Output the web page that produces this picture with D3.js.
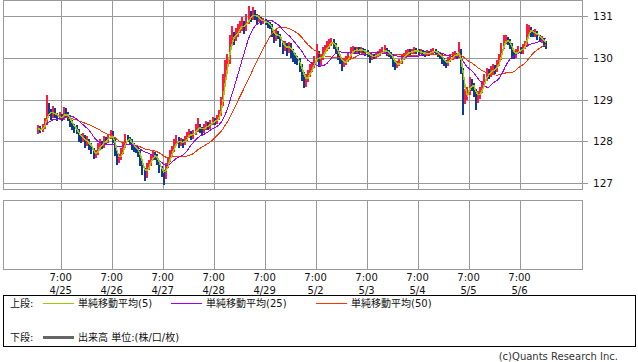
<!DOCTYPE html>
<html>
<head>
<meta charset="utf-8">
<script src="https://cdn.jsdelivr.net/npm/d3@7"></script>
<style>
body { margin: 0; background: #fff; }
svg { display: block; font-family: "DejaVu Sans", "Noto Sans CJK JP", sans-serif; }
</style>
</head>
<body>
<div id="chart"></div>
<script>
// hourly bars (open = previous close)
var firstOpen = 128.25;
var closes = [
  128.30, 128.25, 128.35, 128.45, 128.75, 128.70, 128.60, 128.75, 128.62, 128.55,
  128.60, 128.55, 128.70, 128.65, 128.55, 128.45, 128.35, 128.30, 128.25, 128.10,
  128.05, 128.10, 127.95, 128.00, 127.90, 127.80, 127.65, 127.70, 127.85, 127.95,
  127.90, 128.05, 128.00, 128.10, 128.20, 128.05, 127.75, 127.55, 127.60, 127.75,
  127.90, 128.10, 128.05, 128.00, 127.90, 127.85, 127.80, 127.75, 127.50, 127.30,
  127.20, 127.40, 127.45, 127.60, 127.70, 127.65, 127.50, 127.35, 127.25, 127.20,
  127.40, 127.55, 127.70, 127.80, 127.95, 128.05, 127.95, 128.00, 127.95, 128.05,
  128.15, 128.20, 128.10, 128.20, 128.30, 128.35, 128.30, 128.25, 128.35, 128.40,
  128.35, 128.45, 128.50, 128.45, 128.55, 128.65, 128.90, 129.40, 129.85, 129.90,
  130.40, 130.55, 130.45, 130.60, 130.70, 130.75, 130.80, 130.70, 130.90, 131.00,
  130.95, 131.10, 131.00, 130.90, 130.95, 130.85, 130.88, 130.85, 130.80, 130.78,
  130.60, 130.45, 130.60, 130.55, 130.35, 130.25, 130.30, 130.20, 130.30, 130.15,
  130.05, 130.00, 129.95, 129.80, 129.60, 129.45, 129.50, 129.60, 129.75, 129.80,
  129.95, 130.10, 129.90, 130.00, 130.15, 130.20, 130.30, 130.35, 130.40, 130.30,
  130.20, 130.05, 129.95, 129.85, 129.90, 129.95, 130.05, 130.15, 130.20, 130.15,
  130.20, 130.18, 130.20, 130.15, 130.12, 130.10, 130.00, 130.05, 130.02, 130.08,
  130.10, 130.12, 130.15, 130.20, 130.12, 130.10, 130.05, 129.90, 129.80, 129.85,
  129.90, 130.00, 130.05, 130.10, 130.15, 130.12, 130.15, 130.20, 130.15, 130.12,
  130.15, 130.10, 130.08, 130.12, 130.10, 130.15, 130.18, 130.12, 130.10, 130.05,
  129.95, 129.90, 129.85, 129.95, 130.00, 130.05, 130.08, 130.05, 130.20, 129.70,
  129.05, 129.10, 129.15, 129.45, 129.35, 129.20, 129.05, 129.10, 129.20, 129.35,
  129.50, 129.65, 129.60, 129.70, 129.75, 129.70, 129.85, 130.00, 130.25, 130.40,
  130.45, 130.40, 130.30, 130.10, 130.05, 130.15, 130.20, 130.15, 130.25, 130.30,
  130.65, 130.70, 130.60, 130.58, 130.60, 130.50, 130.45, 130.45, 130.35, 130.30
];
var highs = [
  128.38, 128.36, 128.42, 128.55, 129.10, 128.92, 128.78, 128.85, 128.80, 128.68,
  128.70, 128.66, 128.82, 128.80, 128.70, 128.60, 128.52, 128.42, 128.40, 128.30,
  128.18, 128.20, 128.15, 128.12, 128.05, 127.95, 127.85, 127.80, 127.95, 128.05,
  128.00, 128.12, 128.10, 128.18, 128.28, 128.25, 128.10, 127.80, 127.70, 127.85,
  127.98, 128.18, 128.15, 128.10, 128.05, 127.95, 127.92, 127.85, 127.80, 127.55,
  127.35, 127.48, 127.55, 127.70, 127.80, 127.75, 127.70, 127.55, 127.40, 127.30,
  127.48, 127.62, 127.78, 127.88, 128.05, 128.15, 128.10, 128.08, 128.05, 128.12,
  128.22, 128.30, 128.25, 128.28, 128.42, 128.55, 128.42, 128.35, 128.42, 128.48,
  128.45, 128.52, 128.58, 128.55, 128.62, 128.75, 129.05, 129.60, 129.95, 130.10,
  130.55, 130.75, 130.62, 130.72, 130.82, 130.88, 130.98, 130.88, 131.05, 131.24,
  131.12, 131.22, 131.15, 131.05, 131.02, 130.98, 130.95, 130.92, 130.90, 130.85,
  130.82, 130.65, 130.68, 130.65, 130.58, 130.40, 130.40, 130.35, 130.38, 130.35,
  130.20, 130.12, 130.05, 130.00, 129.85, 129.65, 129.62, 129.70, 129.85, 129.90,
  130.05, 130.32, 130.15, 130.10, 130.25, 130.30, 130.40, 130.45, 130.48, 130.45,
  130.35, 130.25, 130.10, 130.00, 130.00, 130.05, 130.12, 130.25, 130.28, 130.25,
  130.26, 130.25, 130.26, 130.24, 130.20, 130.18, 130.14, 130.10, 130.10, 130.14,
  130.16, 130.20, 130.25, 130.30, 130.24, 130.18, 130.14, 130.08, 129.95, 129.92,
  129.98, 130.08, 130.12, 130.18, 130.22, 130.20, 130.21, 130.26, 130.24, 130.20,
  130.20, 130.18, 130.15, 130.18, 130.16, 130.20, 130.24, 130.22, 130.17, 130.14,
  130.08, 130.00, 129.95, 130.02, 130.08, 130.14, 130.16, 130.12, 130.38, 130.22,
  129.75, 129.25, 129.30, 129.55, 129.50, 129.40, 129.25, 129.20, 129.30, 129.45,
  129.60, 129.75, 129.72, 129.80, 129.85, 129.82, 129.95, 130.10, 130.35, 130.54,
  130.55, 130.50, 130.45, 130.35, 130.15, 130.22, 130.28, 130.25, 130.32, 130.40,
  130.80, 130.78, 130.74, 130.66, 130.68, 130.64, 130.55, 130.52, 130.48, 130.40
];
var lows = [
  128.18, 128.20, 128.22, 128.30, 128.40, 128.60, 128.52, 128.55, 128.55, 128.48,
  128.50, 128.48, 128.50, 128.58, 128.48, 128.35, 128.28, 128.20, 128.18, 127.98,
  127.95, 127.98, 127.85, 127.88, 127.80, 127.70, 127.58, 127.60, 127.66, 127.80,
  127.82, 127.85, 127.92, 127.95, 128.05, 127.95, 127.65, 127.42, 127.48, 127.55,
  127.70, 127.85, 127.98, 127.90, 127.80, 127.75, 127.72, 127.62, 127.40, 127.18,
  127.05, 127.12, 127.32, 127.40, 127.55, 127.55, 127.42, 127.25, 127.15, 126.95,
  127.10, 127.35, 127.50, 127.65, 127.75, 127.90, 127.85, 127.88, 127.85, 127.90,
  128.00, 128.08, 128.02, 128.05, 128.15, 128.22, 128.20, 128.15, 128.20, 128.28,
  128.28, 128.30, 128.40, 128.38, 128.42, 128.50, 128.60, 128.85, 129.30, 129.70,
  129.85, 130.30, 130.30, 130.40, 130.50, 130.60, 130.65, 130.58, 130.65, 130.82,
  130.85, 130.90, 130.90, 130.82, 130.85, 130.78, 130.80, 130.78, 130.72, 130.68,
  130.50, 130.35, 130.40, 130.45, 130.25, 130.10, 130.15, 130.05, 130.12, 130.00,
  129.90, 129.85, 129.82, 129.65, 129.45, 129.28, 129.30, 129.42, 129.55, 129.65,
  129.75, 129.90, 129.78, 129.80, 129.95, 130.08, 130.15, 130.22, 130.28, 130.20,
  130.10, 129.95, 129.85, 129.68, 129.78, 129.82, 129.90, 130.00, 130.10, 130.08,
  130.10, 130.10, 130.12, 130.08, 130.05, 130.02, 129.88, 129.95, 129.96, 129.98,
  130.02, 130.05, 130.08, 130.10, 130.05, 130.02, 129.96, 129.78, 129.70, 129.75,
  129.80, 129.85, 129.95, 130.00, 130.05, 130.06, 130.08, 130.10, 130.08, 130.06,
  130.08, 130.04, 130.02, 130.03, 130.04, 130.06, 130.10, 130.06, 130.02, 129.96,
  129.86, 129.80, 129.76, 129.80, 129.90, 129.95, 129.98, 129.96, 130.00, 129.60,
  128.63, 128.90, 129.00, 129.10, 129.20, 129.05, 128.75, 128.92, 129.02, 129.15,
  129.30, 129.45, 129.50, 129.55, 129.62, 129.60, 129.65, 129.80, 129.95, 130.20,
  130.32, 130.30, 130.20, 129.98, 129.98, 130.00, 130.10, 130.08, 130.10, 130.20,
  130.25, 130.55, 130.50, 130.50, 130.50, 130.42, 130.38, 130.36, 130.26, 130.22
];

// 7:00 gridlines: bar index of each one, and its date
var tickBars = [11, 35, 59, 83, 107, 131, 155, 179, 203, 227];
var tickDates = ['4/25', '4/26', '4/27', '4/28', '4/29', '5/2', '5/3', '5/4', '5/5', '5/6'];
var tickTime = '7:00';
var priceTicks = [127, 128, 129, 130, 131];

// moving averages: legend names and windows in hourly bars (original uses 30-min bars)
var maNames = ['単純移動平均(5)', '単純移動平均(25)', '単純移動平均(50)'];
var maWindows = [3, 13, 25];
var maColors = ['#99cc00', '#9900ff', '#ff3300'];

var UP = '#ff1a40';
var DOWN = '#0a3a9c';
var GRID = '#999999';

addEventListener('load', function() {
  drawChart();
});

function sma(values, n) {
  return values.map(function(v, i) {
    return d3.mean(values.slice(Math.max(0, i - n + 1), i + 1));
  });
}

function crisp(v) {
  return Math.round(v) + 0.5;
}

function drawChart() {
  var width = 638;
  var height = 362;

  var left = 3.5;
  var right = 582.5;
  var top = 0.5;
  var bottom = 189.5;
  var volTop = 200.5;
  var volBottom = 269.5;

  var xScale = d3.scaleLinear()
    .domain([tickBars[0], tickBars[tickBars.length - 1]])
    .range([60.7, 519.5]);

  var yScale = d3.scaleLinear()
    .domain([127, 131])
    .range([183, 16]);

  var svg = d3.select('#chart')
    .append('svg')
    .attr('width', width)
    .attr('height', height);

  svg.append('defs').append('clipPath')
    .attr('id', 'plot')
    .append('rect')
    .attr('x', left).attr('y', top)
    .attr('width', right - left).attr('height', bottom - top);

  // grid, main panel
  var grid = svg.append('g')
    .attr('stroke', GRID)
    .attr('stroke-width', 1)
    .attr('shape-rendering', 'crispEdges');

  grid.selectAll('.hline')
    .data(priceTicks)
    .enter()
    .append('line')
    .attr('x1', left)
    .attr('x2', right + 5)
    .attr('y1', function(d) { return crisp(yScale(d)); })
    .attr('y2', function(d) { return crisp(yScale(d)); });

  grid.selectAll('.vline')
    .data(tickBars)
    .enter()
    .append('line')
    .attr('x1', function(d) { return crisp(xScale(d)); })
    .attr('x2', function(d) { return crisp(xScale(d)); })
    .attr('y1', top)
    .attr('y2', bottom);

  grid.selectAll('.vline2')
    .data(tickBars)
    .enter()
    .append('line')
    .attr('x1', function(d) { return crisp(xScale(d)); })
    .attr('x2', function(d) { return crisp(xScale(d)); })
    .attr('y1', volTop)
    .attr('y2', volBottom);

  grid.append('rect')
    .attr('x', left).attr('y', top)
    .attr('width', right - left).attr('height', bottom - top)
    .attr('fill', 'none');

  grid.append('rect')
    .attr('x', left).attr('y', volTop)
    .attr('width', right - left).attr('height', volBottom - volTop)
    .attr('fill', 'none');

  // price labels on the right
  svg.selectAll('.ylab')
    .data(priceTicks)
    .enter()
    .append('text')
    .attr('x', 593)
    .attr('y', function(d) { return yScale(d) + 4; })
    .attr('font-size', 10.5)
    .attr('fill', '#111')
    .text(function(d) { return d; });

  // time axis labels
  var xl = svg.selectAll('.xlab')
    .data(tickBars)
    .enter()
    .append('g')
    .attr('transform', function(d) { return 'translate(' + xScale(d) + ',0)'; });

  xl.append('text')
    .attr('y', 281)
    .attr('text-anchor', 'middle')
    .attr('font-size', 10)
    .attr('fill', '#111')
    .text(tickTime);

  xl.append('text')
    .attr('y', 294)
    .attr('text-anchor', 'middle')
    .attr('font-size', 10)
    .attr('fill', '#111')
    .text(function(d, i) { return tickDates[i]; });

  // candles: at this width body and wick merge into one bar
  var bars = closes.map(function(c, i) {
    return {
      i: i,
      open: i == 0 ? firstOpen : closes[i - 1],
      close: c,
      high: highs[i],
      low: lows[i]
    };
  });

  var plot = svg.append('g')
    .attr('clip-path', 'url(#plot)');

  plot.selectAll('.candle')
    .data(bars)
    .enter()
    .append('rect')
    .attr('shape-rendering', 'crispEdges')
    .attr('x', function(d) { return Math.round(xScale(d.i)); })
    .attr('width', 2)
    .attr('y', function(d) { return yScale(d.high); })
    .attr('height', function(d) { return Math.max(1, yScale(d.low) - yScale(d.high)); })
    .attr('fill', function(d) { return d.close >= d.open ? UP : DOWN; });

  // moving averages, longest first so the short one sits on top
  for (var k = maWindows.length - 1; k >= 0; k--) {
    var ma = sma(closes, maWindows[k]);
    var line = d3.line()
      .x(function(d, i) { return xScale(i) + 1; })
      .y(function(d) { return yScale(d); });
    plot.append('path')
      .datum(ma)
      .attr('d', line)
      .attr('fill', 'none')
      .attr('stroke', maColors[k])
      .attr('stroke-width', k == 0 ? 1.5 : 1)
      .attr('shape-rendering', 'crispEdges');
  }

  // legend box
  var legend = svg.append('g')
    .attr('font-size', 10)
    .attr('fill', '#111');

  legend.append('rect')
    .attr('x', 3.5).attr('y', 295.5)
    .attr('width', 632).attr('height', 51)
    .attr('fill', 'none')
    .attr('stroke', '#000')
    .attr('shape-rendering', 'crispEdges');

  legend.append('text').attr('x', 10).attr('y', 307).text('上段:');
  legend.append('text').attr('x', 10).attr('y', 341).text('下段:');

  var itemX = [43, 171, 316];
  maNames.forEach(function(name, k) {
    legend.append('line')
      .attr('x1', itemX[k]).attr('x2', itemX[k] + 31)
      .attr('y1', 303.5).attr('y2', 303.5)
      .attr('stroke', maColors[k])
      .attr('stroke-width', 1)
      .attr('shape-rendering', 'crispEdges');
    legend.append('text')
      .attr('x', itemX[k] + 35)
      .attr('y', 307)
      .text(name);
  });

  legend.append('line')
    .attr('x1', 43).attr('x2', 74)
    .attr('y1', 337.5).attr('y2', 337.5)
    .attr('stroke', '#666')
    .attr('stroke-width', 3);
  legend.append('text')
    .attr('x', 78)
    .attr('y', 341)
    .text('出来高 単位:(株/口/枚)');

  svg.append('text')
    .attr('x', 618)
    .attr('y', 360)
    .attr('text-anchor', 'end')
    .attr('font-size', 10)
    .attr('fill', '#333')
    .text('(c)Quants Research Inc.');
}
</script>
</body>
</html>
